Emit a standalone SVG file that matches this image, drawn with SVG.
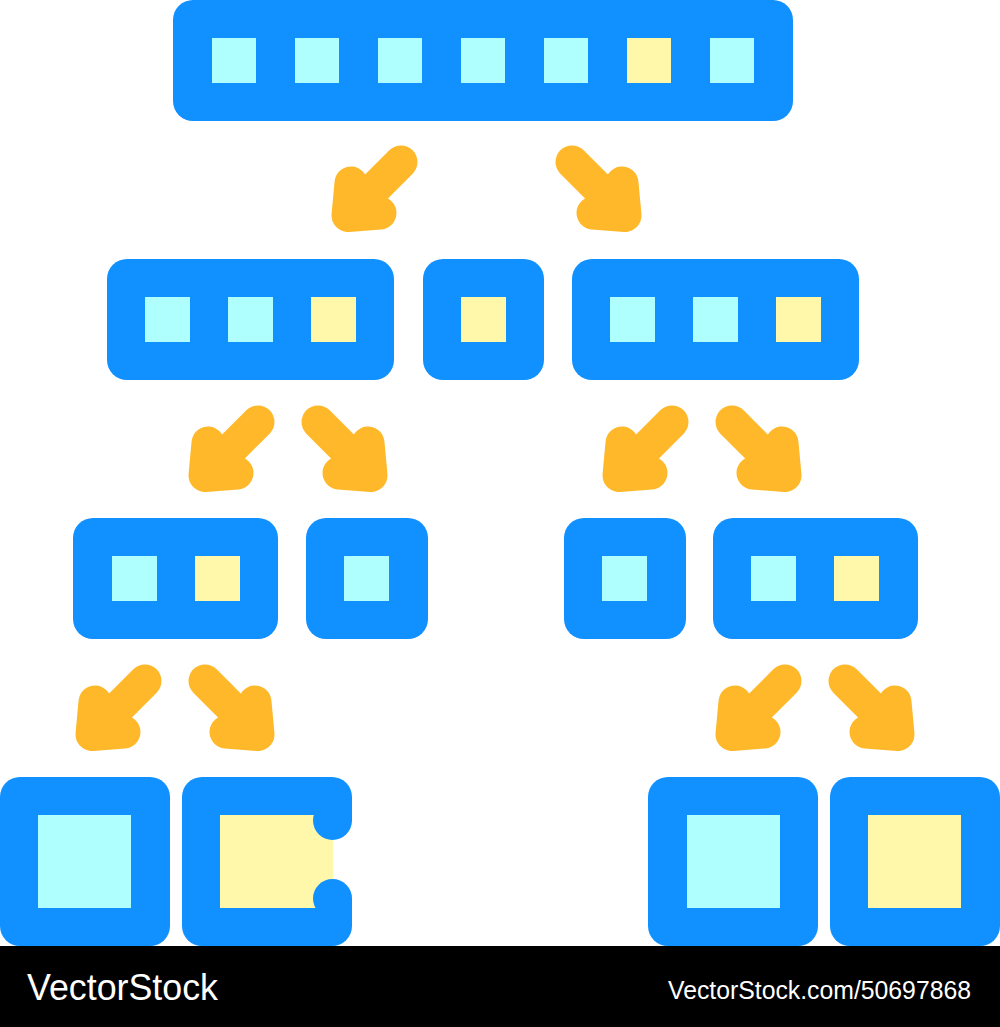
<svg xmlns="http://www.w3.org/2000/svg" xmlns:xlink="http://www.w3.org/1999/xlink" width="1000" height="1027" viewBox="0 0 1000 1027">
<style>
.box{fill:#1190FF}
.c{fill:#B0FFFF}
.y{fill:#FFF8AA}
.arr{fill:none;stroke:#FFB829;stroke-width:33;stroke-linecap:round;stroke-linejoin:round}
.wm{fill:#FFFFFF;font-family:"Liberation Sans",Arial,sans-serif}
</style>
<defs>
<g id="arrowL">
<path class="arr" d="M53,-52 L8,-7"/>
<path class="arr" d="M3,-31 L0,1.5 L32,-1"/>
</g>
</defs>
<rect width="1000" height="1027" fill="#FFFFFF"/>

<g id="node-top">
<rect class="box" x="173" y="0" width="620" height="121" rx="20"/>
<rect class="c" x="212" y="38" width="44" height="45"/>
<rect class="c" x="295" y="38" width="44" height="45"/>
<rect class="c" x="378" y="38" width="44" height="45"/>
<rect class="c" x="461" y="38" width="44" height="45"/>
<rect class="c" x="544" y="38" width="44" height="45"/>
<rect class="y" x="627" y="38" width="44" height="45"/>
<rect class="c" x="710" y="38" width="44" height="45"/>
</g>

<g id="node-r2-left">
<rect class="box" x="107" y="259" width="287" height="121" rx="20"/>
<rect class="c" x="145" y="297" width="45" height="45"/>
<rect class="c" x="228" y="297" width="45" height="45"/>
<rect class="y" x="311" y="297" width="45" height="45"/>
</g>
<g id="node-r2-mid">
<rect class="box" x="423" y="259" width="121" height="121" rx="20"/>
<rect class="y" x="461" y="297" width="45" height="45"/>
</g>
<g id="node-r2-right">
<rect class="box" x="572" y="259" width="287" height="121" rx="20"/>
<rect class="c" x="610" y="297" width="45" height="45"/>
<rect class="c" x="693" y="297" width="45" height="45"/>
<rect class="y" x="776" y="297" width="45" height="45"/>
</g>

<g id="node-r3-a">
<rect class="box" x="73" y="518" width="205" height="121" rx="20"/>
<rect class="c" x="112" y="556" width="45" height="45"/>
<rect class="y" x="195" y="556" width="45" height="45"/>
</g>
<g id="node-r3-b">
<rect class="box" x="306" y="518" width="122" height="121" rx="20"/>
<rect class="c" x="344" y="556" width="45" height="45"/>
</g>
<g id="node-r3-c">
<rect class="box" x="564" y="518" width="122" height="121" rx="20"/>
<rect class="c" x="602" y="556" width="45" height="45"/>
</g>
<g id="node-r3-d">
<rect class="box" x="713" y="518" width="205" height="121" rx="20"/>
<rect class="c" x="751" y="556" width="45" height="45"/>
<rect class="y" x="834" y="556" width="45" height="45"/>
</g>

<g id="node-r4-a">
<rect class="box" x="0" y="777" width="170" height="169" rx="20"/>
<rect class="c" x="38" y="815" width="93" height="93"/>
</g>
<g id="node-r4-b">
<rect class="box" x="182" y="777" width="170" height="169" rx="20"/>
<rect class="y" x="220" y="815" width="113" height="93"/>
<rect fill="#FFFFFF" x="333" y="820.5" width="20" height="78"/>
<circle class="box" cx="332.5" cy="820.5" r="19.5"/>
<circle class="box" cx="332.5" cy="898.5" r="19.5"/>
</g>
<g id="node-r4-c">
<rect class="box" x="648" y="777" width="170" height="169" rx="20"/>
<rect class="c" x="687" y="815" width="93" height="93"/>
</g>
<g id="node-r4-d">
<rect class="box" x="830" y="777" width="170" height="169" rx="20"/>
<rect class="y" x="868" y="815" width="93" height="93"/>
</g>

<g id="connectors">
<use xlink:href="#arrowL" transform="translate(348,214)"/>
<use xlink:href="#arrowL" transform="translate(625,214) scale(-1,1)"/>
<use xlink:href="#arrowL" transform="translate(205,474)"/>
<use xlink:href="#arrowL" transform="translate(371,474) scale(-1,1)"/>
<use xlink:href="#arrowL" transform="translate(619,474)"/>
<use xlink:href="#arrowL" transform="translate(785,474) scale(-1,1)"/>
<use xlink:href="#arrowL" transform="translate(92,733)"/>
<use xlink:href="#arrowL" transform="translate(258,733) scale(-1,1)"/>
<use xlink:href="#arrowL" transform="translate(732,733)"/>
<use xlink:href="#arrowL" transform="translate(898,733) scale(-1,1)"/>
</g>

<g id="banner">
<rect x="0" y="946" width="1000" height="81" fill="#000000"/>
<text class="wm" x="27" y="1000" font-size="37" textLength="191" lengthAdjust="spacingAndGlyphs">VectorStock</text>
<text class="wm" x="668" y="999" font-size="25" textLength="303" lengthAdjust="spacingAndGlyphs">VectorStock.com/50697868</text>
</g>
</svg>
